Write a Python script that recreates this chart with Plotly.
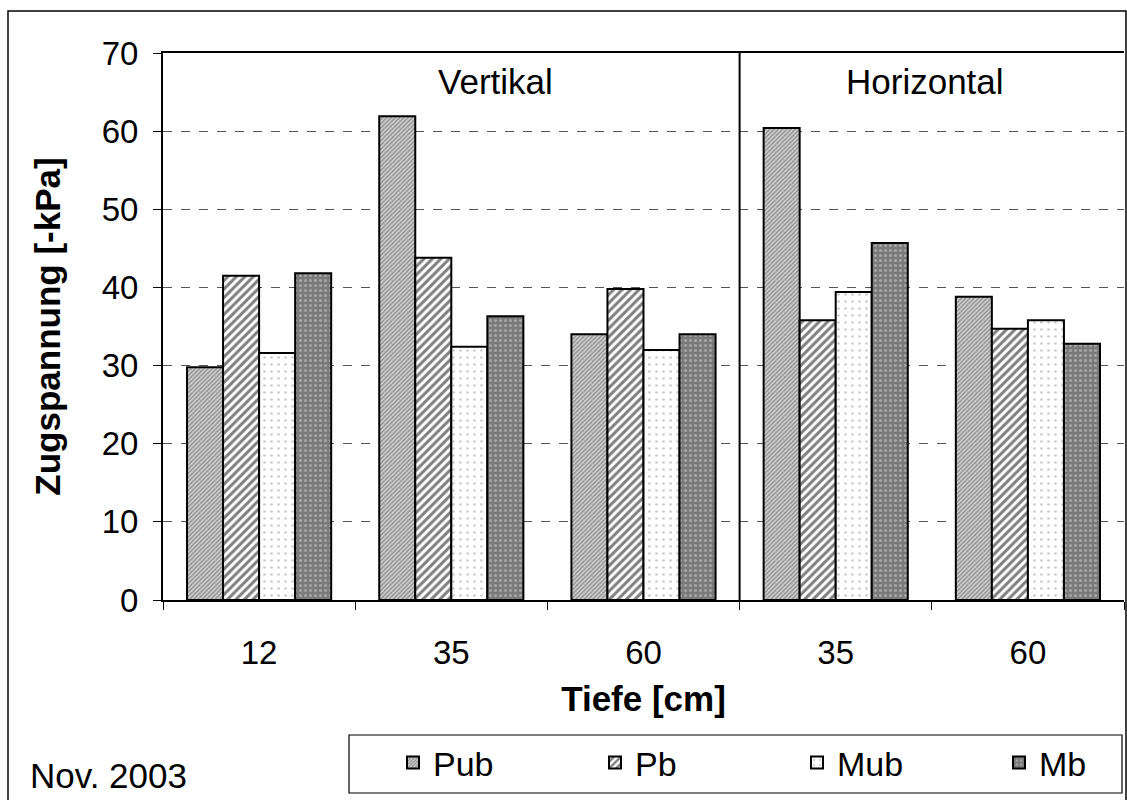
import plotly.graph_objects as go

categories = ["V12", "V35", "V60", "H35", "H60"]
tick_labels = ["12", "35", "60", "35", "60"]
series_names = ["Pub", "Pb", "Mub", "Mb"]
pub = [29.8, 61.9, 34.0, 60.4, 38.8]
pb = [41.5, 43.8, 39.8, 35.8, 34.7]
mub = [31.6, 32.4, 32.0, 39.4, 35.8]
mb = [41.8, 36.3, 34.0, 45.7, 32.8]
y_ticks = [0, 10, 20, 30, 40, 50, 60, 70]

patterns = [
    dict(shape="/", fgcolor="#4a4a4a", bgcolor="#d0d0d0", size=3, solidity=0.45),
    dict(shape="/", fgcolor="#000000", bgcolor="#ffffff", size=6, solidity=0.5),
    dict(shape=".", fgcolor="#9a9a9a", bgcolor="#ffffff", size=7, solidity=0.12),
    dict(shape=".", fgcolor="#d0d0d0", bgcolor="#7a7a7a", size=5, solidity=0.3),
]

FONT = "Liberation Sans, Arial, sans-serif"
FS_TICK = 33
FS = 35
FS_LEG = 34
fig = go.Figure()
for name, vals, pat in zip(series_names, [pub, pb, mub, mb], patterns):
    fig.add_trace(go.Bar(
        x=categories, y=vals, name=name,
        marker=dict(color=pat["bgcolor"], pattern=pat,
                    line=dict(color="black", width=2)),
    ))

W, H = 1127, 800
L, R, T, B = 163, 3, 53, 200
pw, ph = W - L - R, H - T - B

def px_x(p):
    return (p - L) / pw

def px_y(p):
    return (H - B - p) / ph

fig.update_layout(
    width=W, height=H, autosize=False,
    margin=dict(l=L, r=R, t=T, b=B, autoexpand=False),
    paper_bgcolor="white", plot_bgcolor="white",
    barmode="group", bargap=0.25, bargroupgap=0,
    font=dict(family=FONT, size=FS, color="black"),
    showlegend=True,
    legend=dict(
        orientation="h", x=px_x(393), y=px_y(734), xanchor="left", yanchor="top",
        borderwidth=0, bgcolor="rgba(0,0,0,0)",
        font=dict(size=FS_LEG), entrywidth=157, entrywidthmode="pixels",
        itemsizing="constant",
    ),
    xaxis=dict(
        type="category", categoryorder="array", categoryarray=categories,
        tickvals=categories, ticktext=tick_labels,
        tickson="boundaries", ticks="outside", ticklen=8, tickwidth=1, tickcolor="black",
        showline=True, linecolor="black", linewidth=2, showgrid=False, mirror=True,
        tickfont=dict(size=FS_TICK), range=[-0.5, 4.5], ticklabelstandoff=22,
        title=dict(text="<b>Tiefe [cm]</b>", font=dict(size=FS), standoff=17),
    ),
    yaxis=dict(
        range=[0, 70], tickvals=y_ticks, ticks="outside", ticklen=8, tickcolor="black",
        showline=True, linecolor="black", linewidth=2,
        showgrid=True, gridcolor="#555555", griddash="dash", gridwidth=1,
        zeroline=False, tickfont=dict(size=FS_TICK), ticklabelstandoff=8,
        title=dict(text="<b>Zugspannung [-kPa]</b>", font=dict(size=FS), standoff=30),
    ),
    shapes=[
        dict(type="line", xref="x", yref="paper", x0=2.5, x1=2.5, y0=0, y1=1,
             line=dict(color="black", width=2)),
        dict(type="rect", xref="paper", yref="paper",
             x0=px_x(8), x1=px_x(1126), y0=px_y(806), y1=px_y(11),
             line=dict(color="black", width=1.5)),
        dict(type="rect", xref="paper", yref="paper",
             x0=px_x(349), x1=px_x(1122), y0=px_y(793), y1=px_y(735),
             line=dict(color="black", width=1.2)),
    ],
    annotations=[
        dict(text="Vertikal", xref="paper", yref="paper", x=px_x(495), y=px_y(82),
             showarrow=False, font=dict(size=FS), xanchor="center", yanchor="middle"),
        dict(text="Horizontal", xref="paper", yref="paper", x=px_x(925), y=px_y(82),
             showarrow=False, font=dict(size=FS), xanchor="center", yanchor="middle"),
        dict(text="Nov. 2003", xref="paper", yref="paper", x=px_x(28), y=px_y(775),
             showarrow=False, font=dict(size=FS), xanchor="left", yanchor="middle"),
    ],
)

fig.write_html("out.html", config={"displayModeBar": False},
               post_script="document.body.style.margin='0';document.body.style.padding='0';")
